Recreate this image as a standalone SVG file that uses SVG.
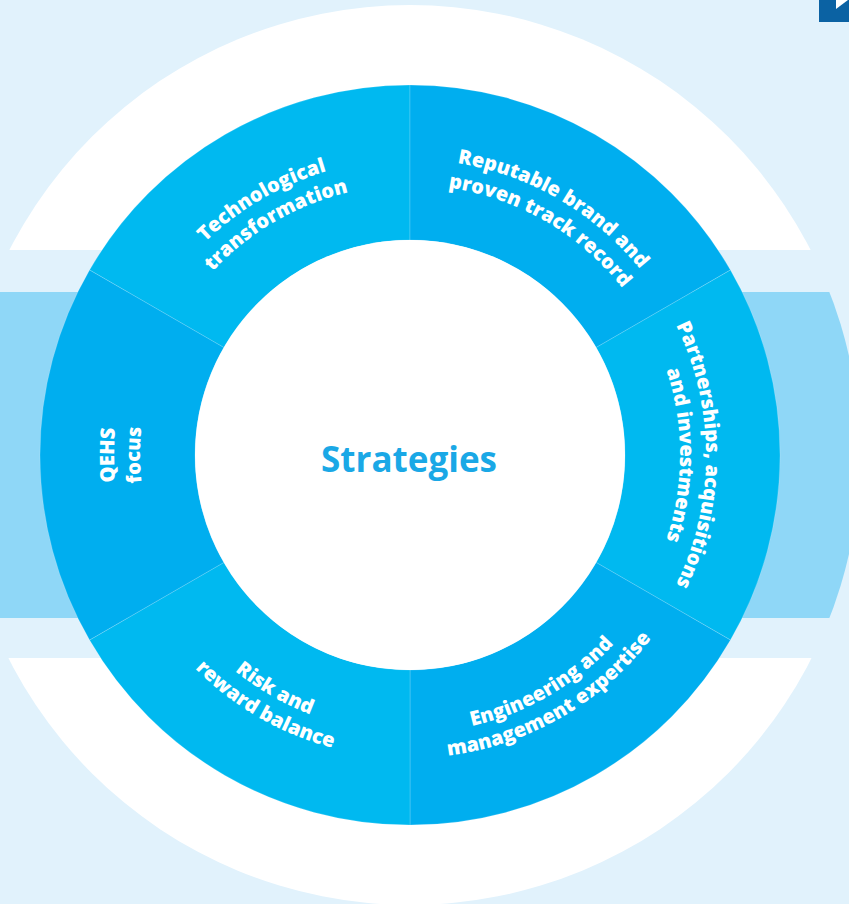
<svg xmlns="http://www.w3.org/2000/svg" xmlns:xlink="http://www.w3.org/1999/xlink" width="849" height="904" viewBox="0 0 849 904">
<style>
.lt{fill:#00b9f0}
.dk{fill:#00aeef}
.seg{stroke:#ffffff;stroke-opacity:0.22;stroke-width:0.8}
.lbl{font-family:"Open Sans","Noto Sans","Liberation Sans",sans-serif;font-weight:800;font-size:20px;fill:#ffffff}
.title{font-family:"Open Sans","Noto Sans","Liberation Sans",sans-serif;font-weight:700;font-size:35px;fill:#1aa8e6}
</style>
<defs>
<clipPath id="bigc"><circle cx="410" cy="455" r="450"/></clipPath>
<path id="tl1" d="M124.09,379.94 A296,296 0 0,1 486.61,169.09"/>
<path id="tl2" d="M149.20,386.68 A270,270 0 0,1 479.88,194.20"/>
<path id="tr1" d="M333.39,169.09 A296,296 0 0,1 695.91,379.94"/>
<path id="tr2" d="M340.12,194.20 A270,270 0 0,1 670.80,385.12"/>
<path id="r1" d="M619.30,245.70 A296,296 0 0,1 619.30,664.30"/>
<path id="r2" d="M600.92,264.08 A270,270 0 0,1 600.92,645.92"/>
<path id="l1" d="M200.70,664.30 A296,296 0 0,1 200.70,245.70"/>
<path id="l2" d="M219.08,645.92 A270,270 0 0,1 219.08,264.08"/>
<path id="br1" d="M338.05,723.53 A278,278 0 0,0 678.53,526.95"/>
<path id="br2" d="M331.58,747.67 A303,303 0 0,0 702.67,533.42"/>
<path id="bl1" d="M141.47,526.95 A278,278 0 0,0 481.95,723.53"/>
<path id="bl2" d="M117.33,533.42 A303,303 0 0,0 488.42,747.67"/>
</defs>
<g id="background">
<rect x="0" y="0" width="849" height="904" fill="#e1f2fc"/>
<circle cx="410" cy="455" r="450" fill="#ffffff"/>
<rect x="0" y="250" width="849" height="408" fill="#e1f2fc"/>
<rect x="0" y="292" width="849" height="326" fill="#8fd7f7" clip-path="url(#bigc)"/>
<path d="M819,0 H849 V22 H819 Z" fill="#0b62a3"/>
<path d="M836,0 V9 L848,0 Z" fill="#ffffff"/>
</g>
<g id="connectors"></g>
<g id="seg-tech">
<path class="lt seg" d="M89.57,270 A370,370 0 0,1 410,85 L410,240 A215,215 0 0,0 223.8,347.5 Z"/>
<text class="lbl"><textPath xlink:href="#tl1" href="#tl1" startOffset="50%" text-anchor="middle">Technological</textPath></text>
<text class="lbl"><textPath xlink:href="#tl2" href="#tl2" startOffset="50%" text-anchor="middle">transformation</textPath></text>
</g>
<g id="seg-brand">
<path class="dk seg" d="M410,85 A370,370 0 0,1 730.43,270 L596.2,347.5 A215,215 0 0,0 410,240 Z"/>
<text class="lbl"><textPath xlink:href="#tr1" href="#tr1" startOffset="50%" text-anchor="middle">Reputable brand and</textPath></text>
<text class="lbl"><textPath xlink:href="#tr2" href="#tr2" startOffset="50%" text-anchor="middle">proven track record</textPath></text>
</g>
<g id="seg-partner">
<path class="lt seg" d="M730.43,270 A370,370 0 0,1 730.43,640 L596.2,562.5 A215,215 0 0,0 596.2,347.5 Z"/>
<text class="lbl"><textPath xlink:href="#r1" href="#r1" startOffset="50%" text-anchor="middle">Partnerships, acquisitions</textPath></text>
<text class="lbl"><textPath xlink:href="#r2" href="#r2" startOffset="50%" text-anchor="middle">and investments</textPath></text>
</g>
<g id="seg-eng">
<path class="dk seg" d="M730.43,640 A370,370 0 0,1 410,825 L410,670 A215,215 0 0,0 596.2,562.5 Z"/>
<text class="lbl"><textPath xlink:href="#br1" href="#br1" startOffset="50%" text-anchor="middle">Engineering and</textPath></text>
<text class="lbl"><textPath xlink:href="#br2" href="#br2" startOffset="50%" text-anchor="middle">management expertise</textPath></text>
</g>
<g id="seg-risk">
<path class="lt seg" d="M410,825 A370,370 0 0,1 89.57,640 L223.8,562.5 A215,215 0 0,0 410,670 Z"/>
<text class="lbl"><textPath xlink:href="#bl1" href="#bl1" startOffset="50%" text-anchor="middle">Risk and</textPath></text>
<text class="lbl"><textPath xlink:href="#bl2" href="#bl2" startOffset="50%" text-anchor="middle">reward balance</textPath></text>
</g>
<g id="seg-qehs">
<path class="dk seg" d="M89.57,640 A370,370 0 0,1 89.57,270 L223.8,347.5 A215,215 0 0,0 223.8,562.5 Z"/>
<text class="lbl"><textPath xlink:href="#l1" href="#l1" startOffset="50%" text-anchor="middle">QEHS</textPath></text>
<text class="lbl"><textPath xlink:href="#l2" href="#l2" startOffset="50%" text-anchor="middle">focus</textPath></text>
</g>
<g id="center">
<circle cx="410" cy="455" r="215" fill="#ffffff"/>
<text class="title" x="409" y="472" text-anchor="middle">Strategies</text>
</g>
</svg>
